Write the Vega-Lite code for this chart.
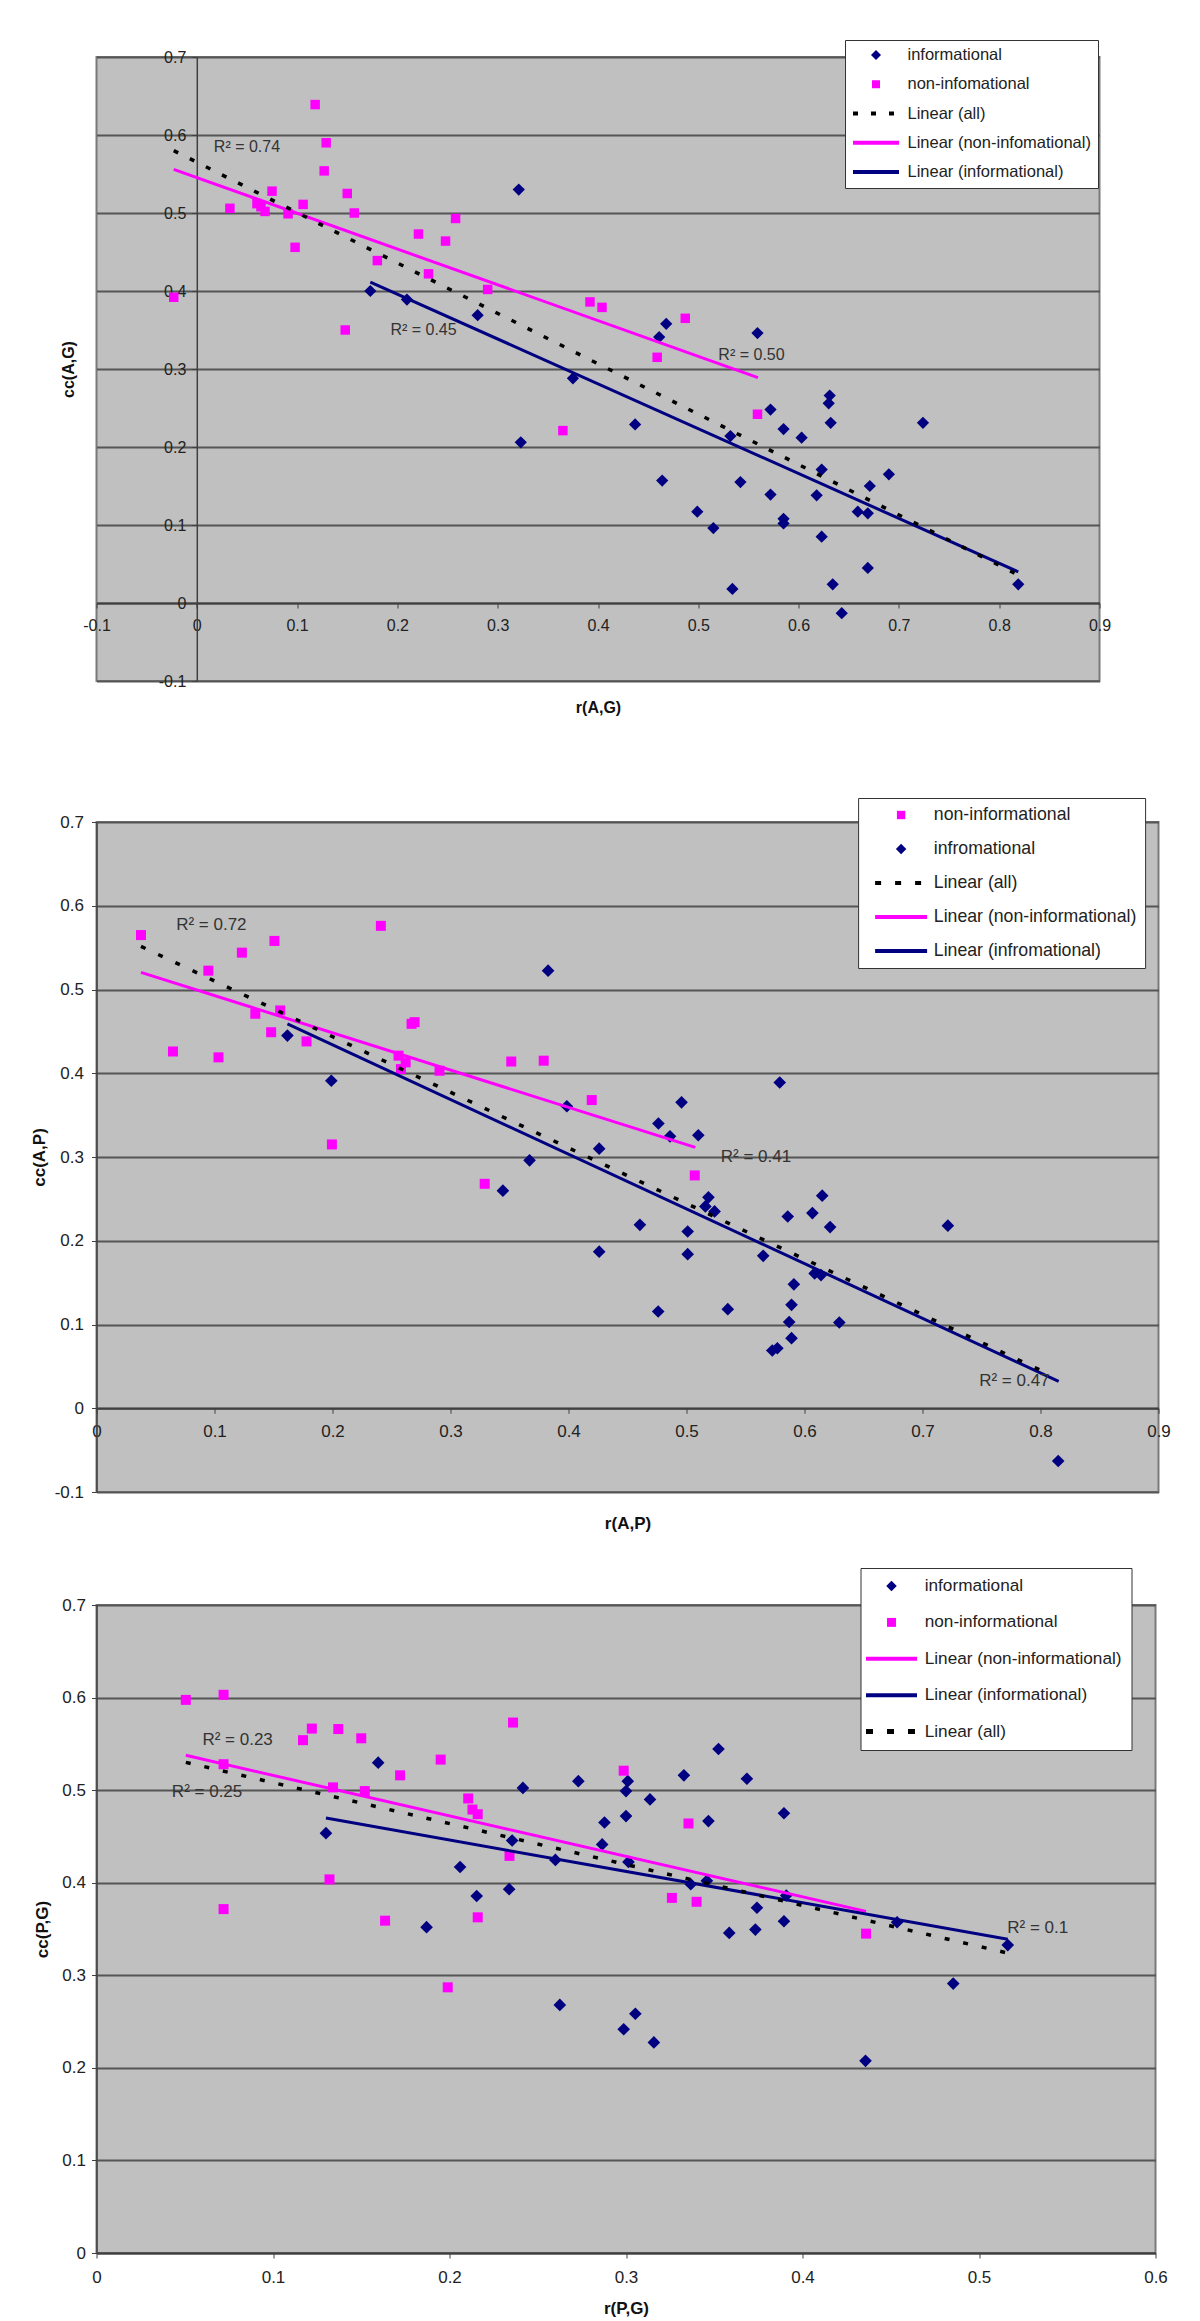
{
"$schema": "https://vega.github.io/schema/vega-lite/v6.json",
"background": "white",
"padding": {"left": 29.5, "top": 38, "right": 5, "bottom": 5},
"config": {
  "font": "Liberation Sans",
  "view": {"fill": "#C0C0C0", "stroke": "#7a7a7a", "strokeWidth": 2},
  "axis": {"labelFont": "Liberation Sans", "labelColor": "#222", "titleFont": "Liberation Sans", "titleFontWeight": "bold", "titleColor": "#111", "tickColor": "#404040", "domainColor": "#404040", "gridColor": "#555555", "gridWidth": 2, "domainWidth": 1.5, "labelFlush": false, "labelOverlap": false, "labelBound": false},
  "legend": {"labelFont": "Liberation Sans", "labelColor": "#222", "fillColor": "white", "strokeColor": "#333", "labelLimit": 400, "symbolSize": 100}
},
"spacing": 141,
"bounds": "flush",
"resolve": {"scale": {"color": "independent", "x": "independent", "y": "independent"}, "legend": {"color": "independent"}, "axis": {"x": "independent", "y": "independent"}},
"vconcat": [
{
  "width": 1003, "height": 624,
  "encoding": {
    "x": {"field": "x", "type": "quantitative", "scale": {"domain": [-0.1, 0.9], "nice": false, "zero": false},
      "axis": {"orient": "bottom", "offset": -78, "values": [-0.1, 0, 0.1, 0.2, 0.3, 0.4, 0.5, 0.6, 0.7, 0.8, 0.9], "labelExpr": "(datum.value < 0 ? '-' : '') + format(abs(datum.value), '.1~f')", "grid": false, "title": "r(A,G)", "titleY": 104, "titleBaseline": "middle", "titleFontSize": 16, "labelFontSize": 16, "tickSize": 5, "labelPadding": 9, "domainWidth": 2}},
    "y": {"field": "y", "type": "quantitative", "scale": {"domain": [-0.1, 0.7], "nice": false, "zero": false},
      "axis": {"orient": "left", "offset": -100.3, "values": [-0.1, 0, 0.1, 0.2, 0.3, 0.4, 0.5, 0.6, 0.7], "labelExpr": "(datum.value < 0 ? '-' : '') + format(abs(datum.value), '.1~f')", "grid": true, "title": "cc(A,G)", "titleX": -128.8, "titleBaseline": "middle", "titleFontSize": 16, "labelFontSize": 16, "tickSize": 5, "labelPadding": 6}},
    "color": {"field": "s", "type": "nominal",
      "scale": {"domain": ["informational", "non-infomational", "Linear (all)", "Linear (non-infomational)", "Linear (informational)"], "range": ["#000080", "#FF00FF", "#000000", "#FF00FF", "#000080"]},
      "legend": {"title": null, "orient": "none", "legendX": 748.5, "legendY": -17, "padding": 6.75, "labelFontSize": 16.5, "labelOffset": 39.25, "rowPadding": 12.25,
        "encode": {"symbols": {"update": {
          "x": {"value": 24.25},
          "shape": {"signal": "datum.value === 'informational' ? 'diamond' : datum.value === 'non-infomational' ? 'square' : 'stroke'"},
          "size": {"signal": "datum.value === 'informational' ? 100 : datum.value === 'non-infomational' ? 64 : 2116"},
          "fill": {"signal": "datum.value === 'informational' ? '#000080' : datum.value === 'non-infomational' ? '#FF00FF' : 'transparent'"},
          "stroke": {"signal": "datum.value === 'Linear (all)' ? '#000000' : datum.value === 'Linear (non-infomational)' ? '#FF00FF' : datum.value === 'Linear (informational)' ? '#000080' : 'transparent'"},
          "strokeWidth": {"signal": "datum.value === 'informational' || datum.value === 'non-infomational' ? 0 : 4"},
          "strokeDash": {"signal": "datum.value === 'Linear (all)' ? [5, 13] : [1, 0]"},
          "strokeJoin": {"value": "round"},
          "strokeCap": {"value": "butt"},
          "opacity": {"value": 1}
        }}}}
    }
  },
  "layer": [
    {"data": {"values": [
      {"x":0.173,"y":0.400,"s":"informational"},{"x":0.2095,"y":0.389,"s":"informational"},{"x":0.280,"y":0.369,"s":"informational"},{"x":0.321,"y":0.530,"s":"informational"},{"x":0.323,"y":0.206,"s":"informational"},{"x":0.375,"y":0.288,"s":"informational"},{"x":0.437,"y":0.229,"s":"informational"},{"x":0.461,"y":0.341,"s":"informational"},{"x":0.468,"y":0.358,"s":"informational"},{"x":0.464,"y":0.157,"s":"informational"},{"x":0.532,"y":0.214,"s":"informational"},{"x":0.542,"y":0.155,"s":"informational"},{"x":0.559,"y":0.346,"s":"informational"},{"x":0.572,"y":0.248,"s":"informational"},{"x":0.585,"y":0.223,"s":"informational"},{"x":0.603,"y":0.212,"s":"informational"},{"x":0.572,"y":0.139,"s":"informational"},{"x":0.623,"y":0.171,"s":"informational"},{"x":0.618,"y":0.138,"s":"informational"},{"x":0.631,"y":0.266,"s":"informational"},{"x":0.630,"y":0.256,"s":"informational"},{"x":0.632,"y":0.231,"s":"informational"},{"x":0.671,"y":0.150,"s":"informational"},{"x":0.690,"y":0.165,"s":"informational"},{"x":0.724,"y":0.231,"s":"informational"},{"x":0.659,"y":0.117,"s":"informational"},{"x":0.669,"y":0.115,"s":"informational"},{"x":0.499,"y":0.117,"s":"informational"},{"x":0.515,"y":0.096,"s":"informational"},{"x":0.585,"y":0.108,"s":"informational"},{"x":0.585,"y":0.102,"s":"informational"},{"x":0.623,"y":0.085,"s":"informational"},{"x":0.669,"y":0.045,"s":"informational"},{"x":0.534,"y":0.018,"s":"informational"},{"x":0.634,"y":0.024,"s":"informational"},{"x":0.643,"y":-0.013,"s":"informational"},{"x":0.819,"y":0.024,"s":"informational"}
    ]}, "mark": {"type": "point", "shape": "diamond", "filled": true, "size": 150, "opacity": 1}},
    {"data": {"values": [
      {"x":-0.023,"y":0.392,"s":"non-infomational"},{"x":0.033,"y":0.506,"s":"non-infomational"},{"x":0.060,"y":0.512,"s":"non-infomational"},{"x":0.064,"y":0.508,"s":"non-infomational"},{"x":0.068,"y":0.502,"s":"non-infomational"},{"x":0.075,"y":0.528,"s":"non-infomational"},{"x":0.091,"y":0.499,"s":"non-infomational"},{"x":0.098,"y":0.456,"s":"non-infomational"},{"x":0.106,"y":0.511,"s":"non-infomational"},{"x":0.118,"y":0.639,"s":"non-infomational"},{"x":0.127,"y":0.554,"s":"non-infomational"},{"x":0.129,"y":0.590,"s":"non-infomational"},{"x":0.148,"y":0.350,"s":"non-infomational"},{"x":0.150,"y":0.525,"s":"non-infomational"},{"x":0.157,"y":0.500,"s":"non-infomational"},{"x":0.180,"y":0.439,"s":"non-infomational"},{"x":0.221,"y":0.473,"s":"non-infomational"},{"x":0.231,"y":0.422,"s":"non-infomational"},{"x":0.248,"y":0.464,"s":"non-infomational"},{"x":0.258,"y":0.493,"s":"non-infomational"},{"x":0.290,"y":0.402,"s":"non-infomational"},{"x":0.365,"y":0.221,"s":"non-infomational"},{"x":0.392,"y":0.386,"s":"non-infomational"},{"x":0.404,"y":0.379,"s":"non-infomational"},{"x":0.459,"y":0.315,"s":"non-infomational"},{"x":0.487,"y":0.365,"s":"non-infomational"},{"x":0.559,"y":0.242,"s":"non-infomational"}
    ]}, "mark": {"type": "point", "shape": "square", "filled": true, "size": 90, "opacity": 1}},
    {"data": {"values": [
      {"x":-0.023,"y":0.556,"s":"Linear (non-infomational)"},{"x":0.5595,"y":0.289,"s":"Linear (non-infomational)"},
      {"x":0.173,"y":0.4115,"s":"Linear (informational)"},{"x":0.819,"y":0.040,"s":"Linear (informational)"}
    ]}, "mark": {"type": "line", "strokeWidth": 3}},
    {"data": {"values": [
      {"x":-0.023,"y":0.580,"s":"Linear (all)"},{"x":0.819,"y":0.036,"s":"Linear (all)"}
    ]}, "mark": {"type": "line", "strokeWidth": 3.5, "strokeDash": [5, 13]}},
    {"data": {"values": [
      {"x":0.017,"y":0.585,"t":"R² = 0.74"},{"x":0.193,"y":0.350,"t":"R² = 0.45"},{"x":0.520,"y":0.318,"t":"R² = 0.50"}
    ]}, "mark": {"type": "text", "align": "left", "baseline": "middle", "fontSize": 16, "font": "Liberation Sans"},
     "encoding": {"text": {"field": "t"}, "color": {"value": "#333333"}}}
  ]
},
{
  "spacing": 113,
  "bounds": "flush",
  "resolve": {"scale": {"color": "independent", "x": "independent", "y": "independent"}, "legend": {"color": "independent"}, "axis": {"x": "independent", "y": "independent"}},
  "vconcat": [
  {
    "width": 1062, "height": 670,
    "encoding": {
      "x": {"field": "x", "type": "quantitative", "scale": {"domain": [0, 0.9], "nice": false, "zero": false},
        "axis": {"orient": "bottom", "offset": -83.75, "values": [0, 0.1, 0.2, 0.3, 0.4, 0.5, 0.6, 0.7, 0.8, 0.9], "labelExpr": "(datum.value < 0 ? '-' : '') + format(abs(datum.value), '.1~f')", "grid": false, "title": "r(A,P)", "titleY": 115, "titleBaseline": "middle", "titleFontSize": 17, "labelFontSize": 17, "tickSize": 5, "labelPadding": 10, "domainWidth": 2}},
      "y": {"field": "y", "type": "quantitative", "scale": {"domain": [-0.1, 0.7], "nice": false, "zero": false},
        "axis": {"orient": "left", "values": [-0.1, 0, 0.1, 0.2, 0.3, 0.4, 0.5, 0.6, 0.7], "labelExpr": "(datum.value < 0 ? '-' : '') + format(abs(datum.value), '.1~f')", "grid": true, "title": "cc(A,P)", "titleX": -57, "titleBaseline": "middle", "titleFontSize": 17, "labelFontSize": 17, "tickSize": 5, "labelPadding": 8}},
      "color": {"field": "s", "type": "nominal",
        "scale": {"domain": ["non-informational", "infromational", "Linear (all)", "Linear (non-informational)", "Linear (infromational)"], "range": ["#FF00FF", "#000080", "#000000", "#FF00FF", "#000080"]},
        "legend": {"title": null, "orient": "none", "legendX": 761.6, "legendY": -24, "padding": 8.15, "labelFontSize": 17.7, "labelOffset": 49.85, "rowPadding": 15,
          "encode": {"symbols": {"update": {
            "x": {"value": 34.85},
            "shape": {"signal": "datum.value === 'infromational' ? 'diamond' : datum.value === 'non-informational' ? 'square' : 'stroke'"},
            "size": {"signal": "datum.value === 'infromational' ? 110 : datum.value === 'non-informational' ? 70 : 2704"},
            "fill": {"signal": "datum.value === 'infromational' ? '#000080' : datum.value === 'non-informational' ? '#FF00FF' : 'transparent'"},
            "stroke": {"signal": "datum.value === 'Linear (all)' ? '#000000' : datum.value === 'Linear (non-informational)' ? '#FF00FF' : datum.value === 'Linear (infromational)' ? '#000080' : 'transparent'"},
            "strokeWidth": {"signal": "datum.value === 'infromational' || datum.value === 'non-informational' ? 0 : 4"},
            "strokeDash": {"signal": "datum.value === 'Linear (all)' ? [6, 14] : [1, 0]"},
            "strokeJoin": {"value": "round"},
            "strokeCap": {"value": "butt"},
            "opacity": {"value": 1}
          }}}}
      }
    },
    "layer": [
      {"data": {"values": [
        {"x":0.1618,"y":0.445,"s":"infromational"},{"x":0.199,"y":0.391,"s":"infromational"},{"x":0.3827,"y":0.5225,"s":"infromational"},{"x":0.579,"y":0.389,"s":"infromational"},{"x":0.3986,"y":0.3606,"s":"infromational"},{"x":0.4958,"y":0.3653,"s":"infromational"},{"x":0.4762,"y":0.340,"s":"infromational"},{"x":0.486,"y":0.3247,"s":"infromational"},{"x":0.510,"y":0.326,"s":"infromational"},{"x":0.367,"y":0.296,"s":"infromational"},{"x":0.426,"y":0.310,"s":"infromational"},{"x":0.3444,"y":0.2598,"s":"infromational"},{"x":0.5186,"y":0.2518,"s":"infromational"},{"x":0.516,"y":0.241,"s":"infromational"},{"x":0.5238,"y":0.235,"s":"infromational"},{"x":0.615,"y":0.2538,"s":"infromational"},{"x":0.5858,"y":0.229,"s":"infromational"},{"x":0.6067,"y":0.233,"s":"infromational"},{"x":0.6217,"y":0.2163,"s":"infromational"},{"x":0.7215,"y":0.218,"s":"infromational"},{"x":0.4605,"y":0.219,"s":"infromational"},{"x":0.501,"y":0.211,"s":"infromational"},{"x":0.426,"y":0.187,"s":"infromational"},{"x":0.501,"y":0.184,"s":"infromational"},{"x":0.565,"y":0.182,"s":"infromational"},{"x":0.6086,"y":0.161,"s":"infromational"},{"x":0.614,"y":0.159,"s":"infromational"},{"x":0.591,"y":0.148,"s":"infromational"},{"x":0.589,"y":0.1235,"s":"infromational"},{"x":0.587,"y":0.103,"s":"infromational"},{"x":0.589,"y":0.0837,"s":"infromational"},{"x":0.476,"y":0.1155,"s":"infromational"},{"x":0.535,"y":0.1183,"s":"infromational"},{"x":0.6295,"y":0.1024,"s":"infromational"},{"x":0.5727,"y":0.069,"s":"infromational"},{"x":0.577,"y":0.0717,"s":"infromational"},{"x":0.815,"y":-0.063,"s":"infromational"}
      ]}, "mark": {"type": "point", "shape": "diamond", "filled": true, "size": 160, "opacity": 1}},
      {"data": {"values": [
        {"x":0.0377,"y":0.565,"s":"non-informational"},{"x":0.0648,"y":0.426,"s":"non-informational"},{"x":0.0948,"y":0.5225,"s":"non-informational"},{"x":0.1034,"y":0.419,"s":"non-informational"},{"x":0.1232,"y":0.544,"s":"non-informational"},{"x":0.1508,"y":0.558,"s":"non-informational"},{"x":0.1346,"y":0.471,"s":"non-informational"},{"x":0.1557,"y":0.475,"s":"non-informational"},{"x":0.148,"y":0.449,"s":"non-informational"},{"x":0.178,"y":0.438,"s":"non-informational"},{"x":0.241,"y":0.576,"s":"non-informational"},{"x":0.267,"y":0.459,"s":"non-informational"},{"x":0.2696,"y":0.461,"s":"non-informational"},{"x":0.256,"y":0.421,"s":"non-informational"},{"x":0.262,"y":0.413,"s":"non-informational"},{"x":0.258,"y":0.405,"s":"non-informational"},{"x":0.2907,"y":0.403,"s":"non-informational"},{"x":0.3515,"y":0.414,"s":"non-informational"},{"x":0.379,"y":0.415,"s":"non-informational"},{"x":0.4197,"y":0.368,"s":"non-informational"},{"x":0.1995,"y":0.315,"s":"non-informational"},{"x":0.329,"y":0.268,"s":"non-informational"},{"x":0.507,"y":0.278,"s":"non-informational"}
      ]}, "mark": {"type": "point", "shape": "square", "filled": true, "size": 100, "opacity": 1}},
      {"data": {"values": [
        {"x":0.0377,"y":0.5205,"s":"Linear (non-informational)"},{"x":0.5075,"y":0.3115,"s":"Linear (non-informational)"},
        {"x":0.1618,"y":0.459,"s":"Linear (infromational)"},{"x":0.8154,"y":0.032,"s":"Linear (infromational)"}
      ]}, "mark": {"type": "line", "strokeWidth": 3}},
      {"data": {"values": [
        {"x":0.0377,"y":0.5515,"s":"Linear (all)"},{"x":0.808,"y":0.040,"s":"Linear (all)"}
      ]}, "mark": {"type": "line", "strokeWidth": 3.5, "strokeDash": [5, 14]}},
      {"data": {"values": [
        {"x":0.0675,"y":0.577,"t":"R² = 0.72"},{"x":0.529,"y":0.300,"t":"R² = 0.41"},{"x":0.748,"y":0.032,"t":"R² = 0.47"}
      ]}, "mark": {"type": "text", "align": "left", "baseline": "middle", "fontSize": 17, "font": "Liberation Sans"},
       "encoding": {"text": {"field": "t"}, "color": {"value": "#333333"}}}
    ]
  },
  {
    "width": 1059, "height": 648,
    "encoding": {
      "x": {"field": "x", "type": "quantitative", "scale": {"domain": [0, 0.6], "nice": false, "zero": false},
        "axis": {"orient": "bottom", "values": [0, 0.1, 0.2, 0.3, 0.4, 0.5, 0.6], "labelExpr": "format(datum.value, '.1~f')", "grid": false, "title": "r(P,G)", "titleY": 55, "titleBaseline": "middle", "titleFontSize": 17, "labelFontSize": 17, "tickSize": 5, "labelPadding": 11, "domainWidth": 2}},
      "y": {"field": "y", "type": "quantitative", "scale": {"domain": [0, 0.7], "nice": false, "zero": false},
        "axis": {"orient": "left", "values": [0, 0.1, 0.2, 0.3, 0.4, 0.5, 0.6, 0.7], "labelExpr": "format(datum.value, '.1~f')", "grid": true, "title": "cc(P,G)", "titleX": -54, "titleBaseline": "middle", "titleFontSize": 17, "labelFontSize": 17, "tickSize": 5, "labelPadding": 6}},
      "color": {"field": "s", "type": "nominal",
        "scale": {"domain": ["informational", "non-informational", "Linear (non-informational)", "Linear (informational)", "Linear (all)"], "range": ["#000080", "#FF00FF", "#FF00FF", "#000080", "#000000"]},
        "legend": {"title": null, "orient": "none", "legendX": 764, "legendY": -37, "padding": 9.4, "labelFontSize": 17.2, "labelOffset": 37.6, "rowPadding": 18.4,
          "encode": {"symbols": {"update": {
            "x": {"value": 21.6},
            "shape": {"signal": "datum.value === 'informational' ? 'diamond' : datum.value === 'non-informational' ? 'square' : 'stroke'"},
            "size": {"signal": "datum.value === 'informational' ? 110 : datum.value === 'non-informational' ? 80 : 2601"},
            "fill": {"signal": "datum.value === 'informational' ? '#000080' : datum.value === 'non-informational' ? '#FF00FF' : 'transparent'"},
            "stroke": {"signal": "datum.value === 'Linear (all)' ? '#000000' : datum.value === 'Linear (non-informational)' ? '#FF00FF' : datum.value === 'Linear (informational)' ? '#000080' : 'transparent'"},
            "strokeWidth": {"signal": "datum.value === 'informational' || datum.value === 'non-informational' ? 0 : (datum.value === 'Linear (all)' ? 5 : 4)"},
            "strokeDash": {"signal": "datum.value === 'Linear (all)' ? [7, 14] : [1, 0]"},
            "strokeJoin": {"value": "round"},
            "strokeCap": {"value": "butt"},
            "opacity": {"value": 1}
          }}}}
      }
    },
    "layer": [
      {"data": {"values": [
        {"x":0.130,"y":0.4535,"s":"informational"},{"x":0.1596,"y":0.5297,"s":"informational"},{"x":0.187,"y":0.352,"s":"informational"},{"x":0.206,"y":0.417,"s":"informational"},{"x":0.2154,"y":0.3857,"s":"informational"},{"x":0.2338,"y":0.393,"s":"informational"},{"x":0.2355,"y":0.4456,"s":"informational"},{"x":0.2416,"y":0.5024,"s":"informational"},{"x":0.260,"y":0.4246,"s":"informational"},{"x":0.2625,"y":0.268,"s":"informational"},{"x":0.273,"y":0.5097,"s":"informational"},{"x":0.2865,"y":0.4414,"s":"informational"},{"x":0.2878,"y":0.465,"s":"informational"},{"x":0.2987,"y":0.2417,"s":"informational"},{"x":0.300,"y":0.499,"s":"informational"},{"x":0.301,"y":0.5097,"s":"informational"},{"x":0.300,"y":0.472,"s":"informational"},{"x":0.3014,"y":0.4225,"s":"informational"},{"x":0.3053,"y":0.2585,"s":"informational"},{"x":0.3136,"y":0.490,"s":"informational"},{"x":0.3158,"y":0.2275,"s":"informational"},{"x":0.3328,"y":0.516,"s":"informational"},{"x":0.3367,"y":0.3983,"s":"informational"},{"x":0.3467,"y":0.4666,"s":"informational"},{"x":0.3458,"y":0.402,"s":"informational"},{"x":0.3524,"y":0.5444,"s":"informational"},{"x":0.3585,"y":0.3458,"s":"informational"},{"x":0.3685,"y":0.5123,"s":"informational"},{"x":0.3733,"y":0.3494,"s":"informational"},{"x":0.3742,"y":0.373,"s":"informational"},{"x":0.3895,"y":0.475,"s":"informational"},{"x":0.3895,"y":0.3584,"s":"informational"},{"x":0.3908,"y":0.3862,"s":"informational"},{"x":0.4536,"y":0.3573,"s":"informational"},{"x":0.4357,"y":0.2076,"s":"informational"},{"x":0.4854,"y":0.291,"s":"informational"},{"x":0.5163,"y":0.3326,"s":"informational"}
      ]}, "mark": {"type": "point", "shape": "diamond", "filled": true, "size": 160, "opacity": 1}},
      {"data": {"values": [
        {"x":0.0506,"y":0.5975,"s":"non-informational"},{"x":0.072,"y":0.603,"s":"non-informational"},{"x":0.072,"y":0.528,"s":"non-informational"},{"x":0.072,"y":0.3715,"s":"non-informational"},{"x":0.117,"y":0.554,"s":"non-informational"},{"x":0.122,"y":0.5665,"s":"non-informational"},{"x":0.137,"y":0.566,"s":"non-informational"},{"x":0.150,"y":0.556,"s":"non-informational"},{"x":0.134,"y":0.503,"s":"non-informational"},{"x":0.152,"y":0.499,"s":"non-informational"},{"x":0.132,"y":0.4036,"s":"non-informational"},{"x":0.1635,"y":0.359,"s":"non-informational"},{"x":0.172,"y":0.516,"s":"non-informational"},{"x":0.195,"y":0.533,"s":"non-informational"},{"x":0.199,"y":0.287,"s":"non-informational"},{"x":0.2106,"y":0.491,"s":"non-informational"},{"x":0.213,"y":0.479,"s":"non-informational"},{"x":0.216,"y":0.474,"s":"non-informational"},{"x":0.216,"y":0.3626,"s":"non-informational"},{"x":0.234,"y":0.429,"s":"non-informational"},{"x":0.236,"y":0.573,"s":"non-informational"},{"x":0.2987,"y":0.521,"s":"non-informational"},{"x":0.326,"y":0.3836,"s":"non-informational"},{"x":0.3354,"y":0.464,"s":"non-informational"},{"x":0.340,"y":0.3794,"s":"non-informational"},{"x":0.436,"y":0.345,"s":"non-informational"}
      ]}, "mark": {"type": "point", "shape": "square", "filled": true, "size": 100, "opacity": 1}},
      {"data": {"values": [
        {"x":0.0506,"y":0.5376,"s":"Linear (non-informational)"},{"x":0.436,"y":0.369,"s":"Linear (non-informational)"},
        {"x":0.130,"y":0.4698,"s":"Linear (informational)"},{"x":0.5163,"y":0.339,"s":"Linear (informational)"}
      ]}, "mark": {"type": "line", "strokeWidth": 3}},
      {"data": {"values": [
        {"x":0.0506,"y":0.530,"s":"Linear (all)"},{"x":0.5163,"y":0.324,"s":"Linear (all)"}
      ]}, "mark": {"type": "line", "strokeWidth": 3.5, "strokeDash": [5, 14]}},
      {"data": {"values": [
        {"x":0.060,"y":0.554,"t":"R² = 0.23"},{"x":0.0427,"y":0.498,"t":"R² = 0.25"},{"x":0.516,"y":0.351,"t":"R² = 0.1"}
      ]}, "mark": {"type": "text", "align": "left", "baseline": "middle", "fontSize": 17, "font": "Liberation Sans"},
       "encoding": {"text": {"field": "t"}, "color": {"value": "#333333"}}}
    ]
  }
  ]
}
]
}
